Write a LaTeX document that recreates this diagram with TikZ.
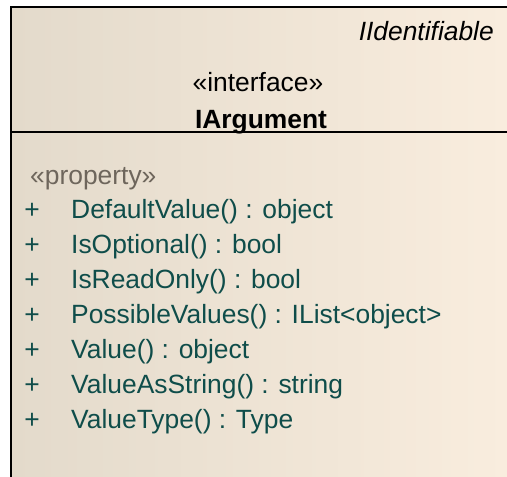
\documentclass[tikz,border=0pt]{standalone}
\usepackage{fontspec}
\setmainfont{Liberation Sans}
\usetikzlibrary{positioning}
\definecolor{umlteal}{RGB}{15,77,74}
\definecolor{umlgray}{RGB}{110,102,92}
\definecolor{fillleft}{RGB}{227,218,203}
\definecolor{fillright}{RGB}{249,237,222}

\begin{document}
\begin{tikzpicture}
        [
            x=1pt, y=-1pt,
            txt/.style={inner sep=0pt, font=\fontsize{26.4}{30}\selectfont},
            member/.style={txt, anchor=base west, text=umlteal},
            vis/.style={txt, anchor=base, text=umlteal},
            stereo/.style={txt, anchor=base, text=#1}
        ]
        \useasboundingbox (0,0) rectangle (507,477);
        \coordinate (tl) at (11,7);
        \coordinate (tr) at (507,7);
        \coordinate (bl) at (11,477);
        \coordinate (br) at (507,477);
        \coordinate (dl) at (11,132);
        \coordinate (dr) at (507,132);
        \shade [left color=fillleft, right color=fillright] (tl) rectangle (br);
        \draw [line width=2pt] (bl) -- (tl) -- (tr);
        \draw [line width=2pt] (dl) -- (dr);
        % header
        \node (parent) [txt, anchor=base east, font=\fontsize{26.4}{30}\selectfont\itshape] at (494,40) {IIdentifiable};
        \node (kind) [stereo=black] at (258,91) {«interface»};
        \node (cname) [txt, anchor=base, font=\fontsize{26.4}{30}\selectfont\bfseries] at (261,128) {IArgument};
        % properties
        \node (prop) [stereo=umlgray, anchor=base west] at (30,184) {«property»};
        \foreach \name [count=\k] in {DefaultValue() : object, IsOptional() : bool,
            IsReadOnly() : bool, PossibleValues() : IList<object>, Value() : object,
            ValueAsString() : string, ValueType() : Type}
        {
            \node (p\k) [vis] at (32,183+35*\k) {+};
            \node (m\k) [member] at (71,183+35*\k) {\name};
        }
    \end{tikzpicture}
\end{document}
